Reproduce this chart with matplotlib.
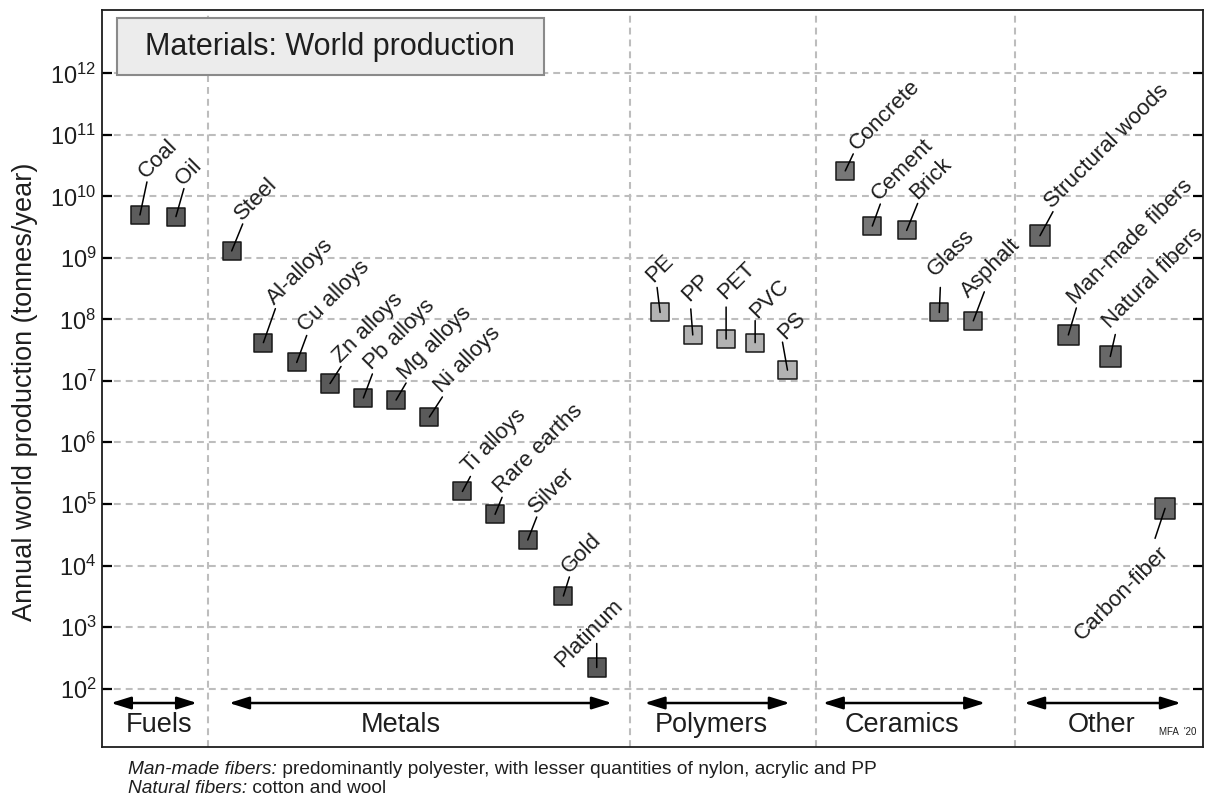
#!/usr/bin/env python
# -*- coding: utf-8 -*-

"""
Annual world production of engineering materials, log scale.
"""

# Third party modules.
import numpy as np
import matplotlib
matplotlib.use("Agg")
import matplotlib.pyplot as plt
import matplotlib.transforms as mtransforms
from matplotlib.patches import Rectangle
from matplotlib.ticker import FixedLocator, FuncFormatter, NullLocator

plt.rcParams['font.family'] = ['Liberation Sans', 'DejaVu Sans']
plt.rcParams['mathtext.fontset'] = 'custom'
plt.rcParams['mathtext.rm'] = 'Liberation Sans'
plt.rcParams['mathtext.it'] = 'Liberation Sans:italic'
plt.rcParams['mathtext.bf'] = 'Liberation Sans:bold'

# Data.
materials = ["Coal", "Oil",
             "Steel", "Al-alloys", "Cu alloys", "Zn alloys", "Pb alloys",
             "Mg alloys", "Ni alloys", "Ti alloys", "Rare earths", "Silver",
             "Gold", "Platinum",
             "PE", "PP", "PET", "PVC", "PS",
             "Concrete", "Cement", "Brick", "Glass", "Asphalt",
             "Structural woods", "Man-made fibers", "Natural fibers",
             "Carbon-fiber"]
family = ["fuel"] * 2 + ["metal"] * 12 + ["polymer"] * 5 + ["ceramic"] * 5 + ["other"] * 4
production = [5.0e9, 4.7e9,
              1.3e9, 4.2e7, 2.0e7, 9.1e6, 5.3e6, 4.9e6, 2.6e6, 1.6e5, 6.8e4,
              2.6e4, 3.2e3, 2.2e2,
              1.3e8, 5.6e7, 4.8e7, 4.2e7, 1.5e7,
              2.6e10, 3.3e9, 2.8e9, 1.3e8, 9.5e7,
              2.3e9, 5.6e7, 2.5e7, 8.5e4]
# category slot of each material along the (unscaled) x axis
slot = [1.15, 2.24,
        3.93, 4.89, 5.90, 6.91, 7.92, 8.91, 9.92, 10.92, 11.91, 12.90, 13.98, 14.99,
        16.91, 17.90, 18.91, 19.79, 20.77,
        22.52, 23.34, 24.38, 25.37, 26.40,
        28.42, 29.28, 30.55, 32.21]

group_names = ["Fuels", "Metals", "Polymers", "Ceramics", "Other"]
group_span = [(0.27, 2.88), (3.85, 15.45), (16.44, 20.84), (21.84, 26.76), (27.94, 32.69)]
group_label_x = [1.72, 9.06, 18.45, 24.24, 30.3]
group_edges = [3.21, 16.0, 21.64, 27.67]
decades = list(range(2, 13))

# Styles.
face = {"fuel": "#5c5c5c", "metal": "#5a5a5a", "polymer": "#b2b2b2",
        "ceramic": "#777777", "other": "#686868"}
msize = {"fuel": 13, "metal": 13, "polymer": 13, "ceramic": 13, "other": 15}
# leader line end, pixels from marker centre (x right, y down)
lead = [(7, -33), (8, -28), (11, -27), (12, -34), (10, -27), (11, -17), (9, -24),
        (10, -17), (13, -20), (8, -15), (7, -17), (9, -23), (6, -19), (0, -24),
        (-3, -25), (-2, -26), (0, -32), (0, -22), (-5, -28),
        (8, -17), (8, -22), (11, -27), (1, -25), (11, -29),
        (13, -24), (8, -27), (5, -22), (-10, 30)]
# text anchor where it is not just past the end of the leader
text_at = {"Platinum": (-35, 0), "PE": (-7, -29), "PP": (-4, -33), "PET": (-1, -39),
           "PVC": (2, -24), "PS": (-2, -30), "Concrete": (12, -20), "Glass": (-4, -35),
           "Asphalt": (-5, -22), "Natural fibers": (0, -27), "Carbon-fiber": (-7, 34)}
PX = 0.72
ink = "#1e1e1e"
grid_style = dict(color="#bdbdbd", linestyle=(0, (3.3, 2.4)), linewidth=1.5)


def run():
    fig = plt.figure(figsize=(12.07, 8.01), dpi=100)
    ax = fig.add_axes([0.0845, 0.0674, 0.9122, 0.9201])
    ax.set_yscale("log")
    ax.set_xlim(0, 33.36)
    ax.set_ylim(10 ** 1.05, 10 ** 13.03)

    ax.yaxis.set_major_locator(FixedLocator([10.0 ** d for d in decades]))
    ax.yaxis.set_minor_locator(NullLocator())
    ax.yaxis.set_major_formatter(
        FuncFormatter(lambda v, _: r"$\mathregular{10^{%d}}$" % round(np.log10(v))))
    ax.set_xticks([])
    ax.tick_params(axis="y", which="major", direction="in", length=7, width=1.6,
                   left=True, right=True, labelsize=17, pad=4, labelcolor=ink)
    for spine in ax.spines.values():
        spine.set_linewidth(1.3)
        spine.set_color(ink)

    ax.grid(axis="y", which="major", **grid_style)
    ax.set_axisbelow(True)
    for edge in group_edges:
        ax.axvline(edge, zorder=0.5, **grid_style)

    ax.set_ylabel("Annual world production (tonnes/year)", fontsize=19.5, color=ink)
    ax.yaxis.set_label_coords(-0.058, 0.482)

    colors = [face[f] for f in family]
    sizes = [msize[f] ** 2 for f in family]
    ax.scatter(slot, production, marker="s", s=sizes, c=colors,
               edgecolors="#181818", linewidths=1.1, zorder=3)

    for name, x, y, (lx, ly) in zip(materials, slot, production, lead):
        ax.annotate("", xy=(x, y), xytext=(lx * PX, -ly * PX), textcoords="offset points",
                    arrowprops=dict(arrowstyle="-", color="black", lw=1.1,
                                    shrinkA=0, shrinkB=0), zorder=4)
        if name == "Carbon-fiber":
            tx, ty = text_at[name]
            ha, va = "right", "top"
        else:
            tx, ty = text_at.get(name, (lx - 1, ly - 3))
            ha, va = "left", "baseline"
        ax.annotate(name, xy=(x, y), xytext=(tx * PX, -ty * PX), textcoords="offset points",
                    rotation=45, rotation_mode="anchor", ha=ha, va=va,
                    fontsize=16, color=ink, zorder=4)

    # title box
    ax.add_patch(Rectangle((0.0134, 0.9118), 0.3876, 0.0769, transform=ax.transAxes,
                           facecolor="#ececec", edgecolor="#8a8a8a", lw=1.5, zorder=5))
    ax.text(0.207, 0.950, "Materials: World production", transform=ax.transAxes,
            ha="center", va="center", fontsize=22, color=ink, zorder=6)

    # material families along the bottom
    trans = mtransforms.blended_transform_factory(ax.transData, ax.transAxes)
    for name, (x0, x1), xc in zip(group_names, group_span, group_label_x):
        ax.annotate("", xy=(x1, 0.0597), xytext=(x0, 0.0597),
                    xycoords=trans, textcoords=trans,
                    arrowprops=dict(arrowstyle="<|-|>,head_length=0.8,head_width=0.25",
                                    mutation_scale=15, color="black", lw=1.8,
                                    shrinkA=0, shrinkB=0))
        ax.text(xc, 0.030, name, transform=trans, ha="center", va="center",
                fontsize=19.5, color=ink)

    ax.text(0.9936, 0.0136, "MFA  '20", transform=ax.transAxes, ha="right",
            va="bottom", fontsize=7, color=ink)

    # footnotes
    note1 = fig.text(0.106, 0.0395, "Man-made fibers:", style="italic",
                     fontsize=13.8, color=ink, va="center")
    ax.annotate(" predominantly polyester, with lesser quantities of nylon, acrylic and PP",
                xy=(1, 0), xycoords=note1, ha="left", va="bottom", fontsize=13.8, color=ink)
    note2 = fig.text(0.106, 0.016, "Natural fibers:", style="italic",
                     fontsize=13.8, color=ink, va="center")
    ax.annotate(" cotton and wool", xy=(1, 0), xycoords=note2, ha="left",
                va="bottom", fontsize=13.8, color=ink)

    fig.savefig("out.png", dpi=100)


def main():
    run()


if __name__ == '__main__':  # pragma: no cover
    main()
